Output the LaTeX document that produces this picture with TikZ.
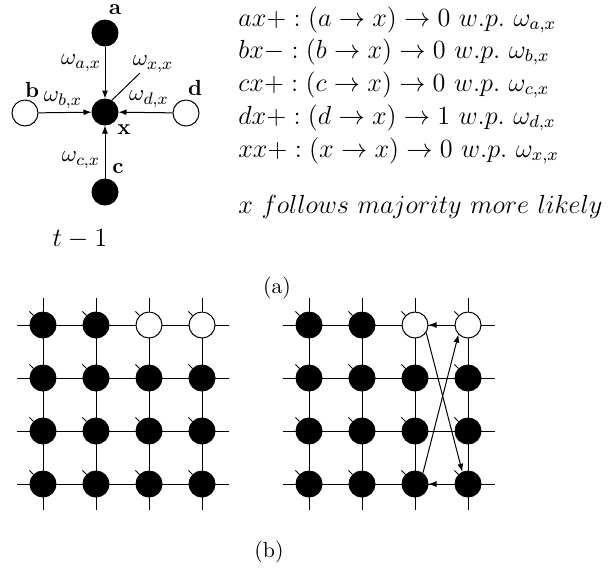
\documentclass[tikz,border=0pt]{standalone}
\usepackage{graphicx}
\usetikzlibrary{arrows.meta}
\newcommand{\EqS}[1]{\scalebox{1.0917}{$#1$}}
\newcommand{\LbS}[1]{\scalebox{1.05}{$#1$}}
\begin{document}
\begin{tikzpicture}[x=0.5pt,y=-0.5pt,
  blk/.style={circle,draw=black,fill=black,minimum size=13pt,inner sep=0pt,line width=0.5pt},
  wht/.style={circle,draw=black,fill=white,minimum size=13pt,inner sep=0pt,line width=0.5pt},
  arr/.style={-{Latex[length=4pt,width=3pt]},line width=0.5pt},
  gridline/.style={line width=0.5pt},
  tickline/.style={line width=0.5pt},
  lbl/.style={inner sep=0pt,font=\fontsize{10.95}{13}\selectfont},
  blbl/.style={inner sep=0pt,font=\fontsize{10.95}{13}\selectfont},
  eqn/.style={inner sep=0pt,anchor=base west,font=\fontsize{12}{14}\selectfont},
  captext/.style={inner sep=0pt,font=\fontsize{10.95}{13}\selectfont}]
\useasboundingbox (0,0) rectangle (615,570);
% ---------- (a) top diagram ----------
\node[blk] (a) at (105,33) {};
\node[wht] (b) at (25,113) {};
\node[blk] (x) at (105,112) {};
\node[wht] (d) at (186,113) {};
\node[blk] (c) at (105,192) {};
\draw[arr] (a) -- (x);
\draw[arr] (b) -- (x);
\draw[arr] (d) -- (x);
\draw[arr] (c) -- (x);
\node[blbl] (la) at (115,10) {$\mathbf{a}$};
\node[blbl] (lb) at (32,90) {$\mathbf{b}$};
\node[blbl] (ld) at (195,88) {$\mathbf{d}$};
\node[blbl] (lc) at (118,169) {$\mathbf{c}$};
\node[blbl] (lx) at (124,130) {$\mathbf{x}$};
\node[lbl] (wax) at (81,63) {\LbS{\omega_{a,x}}};
\node[lbl] (wbx) at (63,100) {\LbS{\omega_{b,x}}};
\node[lbl] (wdx) at (149,99) {\LbS{\omega_{d,x}}};
\node[lbl] (wcx) at (81,160) {\LbS{\omega_{c,x}}};
\node[lbl] (wxx) at (153,64) {\LbS{\omega_{x,x}}};
\coordinate (wxxend) at (140,73);
\draw[line width=0.5pt] (wxxend) -- (x.60);
\node[inner sep=0pt,font=\fontsize{12}{14}\selectfont] (t) at (80,239) {\scalebox{1.1}{$t-1$}};
% equations
\node[eqn] (e1) at (238,26) {\EqS{ax+ : (a \rightarrow x) \rightarrow 0\ w.p.\ \omega_{a,x}}};
\node[eqn] (e2) at (238,58) {\EqS{bx- : (b \rightarrow x) \rightarrow 0\ w.p.\ \omega_{b,x}}};
\node[eqn] (e3) at (238,91) {\EqS{cx+ : (c \rightarrow x) \rightarrow 0\ w.p.\ \omega_{c,x}}};
\node[eqn] (e4) at (238,124) {\EqS{dx+ : (d \rightarrow x) \rightarrow 1\ w.p.\ \omega_{d,x}}};
\node[eqn] (e5) at (238,157) {\EqS{xx+ : (x \rightarrow x) \rightarrow 0\ w.p.\ \omega_{x,x}}};
\node[eqn] (e6) at (238,213) {\EqS{x\ follows\ majority\ more\ likely}};
\node[captext] (capa) at (277,288) {(a)};
% ---------- (b) grids ----------
\foreach \g/\xo in {L/0,R/266}{
  \foreach \r/\yy in {1/325,2/378,3/431,4/484}{
    \coordinate (\g h\r a) at (17+\xo,\yy);
    \coordinate (\g h\r b) at (229+\xo,\yy);
    \draw[gridline] (\g h\r a) -- (\g h\r b);
  }
  \foreach \c/\xx in {1/43,2/96,3/149,4/202}{
    \coordinate (\g v\c a) at (\xx+\xo,298);
    \coordinate (\g v\c b) at (\xx+\xo,510);
    \draw[gridline] (\g v\c a) -- (\g v\c b);
  }
  \foreach \r/\yy in {1/325,2/378,3/431,4/484}{
    \foreach \c/\xx in {1/43,2/96,3/149,4/202}{
      \ifnum\r=1 \ifnum\c>2
        \node[wht] (\g\r\c) at (\xx+\xo,\yy) {};
      \else
        \node[blk] (\g\r\c) at (\xx+\xo,\yy) {};
      \fi\else
        \node[blk] (\g\r\c) at (\xx+\xo,\yy) {};
      \fi
      \draw[tickline] (\g\r\c.135) -- ++(-4,-4);
    }
  }
}
\draw[arr] (R14) -- (R13);
\draw[arr] (R44) -- (R43);
\draw[arr] (R13.-34) -- (R44.115);
\draw[arr] (R43.54) -- (R14.-135);
\node[captext] (capb) at (269,552) {(b)};
\end{tikzpicture}
\end{document}
